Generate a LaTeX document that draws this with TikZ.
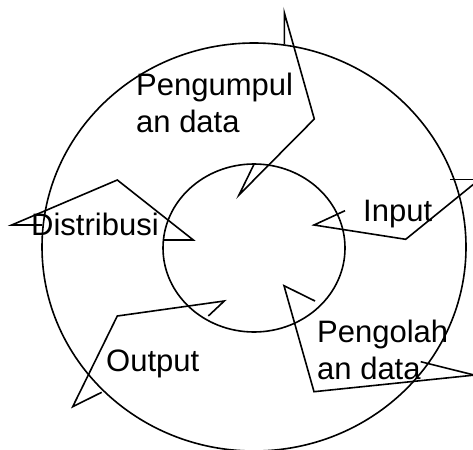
\documentclass[tikz,border=0pt]{standalone}
\usepackage{fontspec}
\setmainfont{Liberation Sans}
\begin{document}
\begin{tikzpicture}[x=1pt,y=-1pt,
  ln/.style={line width=1.6pt,line join=miter},
  lbl/.style={inner sep=0pt,anchor=base west,align=left,font=\fontsize{31}{37}\selectfont}]
\useasboundingbox (0,0) rectangle (473,449);
\clip (0,0) rectangle (473,449);
% circles
\draw[ln] (254,247) ellipse [x radius=212, y radius=204];
\draw[ln] (254,248) ellipse [x radius=91, y radius=84];
% arrow outlines
\draw[ln] (284.3,44.3) -- (284.3,12.7) -- (314.3,119) -- (239,195) -- (254,164.3);
\draw[ln] (450,179.3) -- (480,179.3);
\draw[ln] (480,179) -- (405.7,239.3) -- (314,225) -- (345,210.7);
\draw[ln] (315,301) -- (284,285.7) -- (314,391.7) -- (480,374.5);
\draw[ln] (480,376.5) -- (420.7,361.7);
\draw[ln] (208.3,316) -- (224.3,301) -- (117.3,316) -- (72.7,406.7) -- (101.7,392.3);
\draw[ln] (42,225) -- (11.7,225) -- (117.3,180) -- (193.3,240) -- (163.3,240);
% labels (base anchor = baseline of last line)
\node[lbl] (peng) at (136,133) {Pengumpul\\an data};
\node[lbl] (inp) at (363,221) {Input};
\node[lbl] (dist) at (31,235) {Distribusi};
\node[lbl] (outp) at (106,371) {Output};
\node[lbl] (olah) at (317,379) {Pengolah\\an data};
\end{tikzpicture}
\end{document}
